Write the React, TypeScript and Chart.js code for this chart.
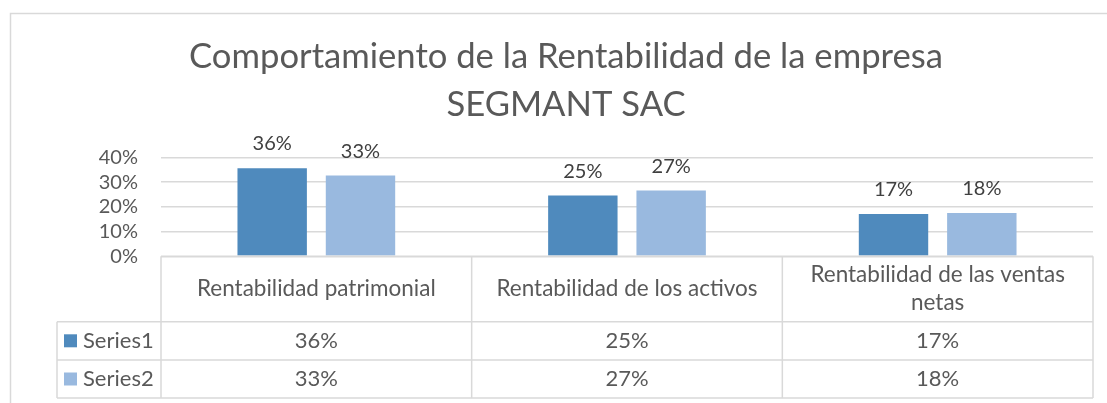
import { useEffect, useRef } from "react";
import { Chart, registerables } from "chart.js";

Chart.register(...registerables);

const titleLines = ["Comportamiento de la Rentabilidad de la empresa", "SEGMANT SAC"];
const categoryLabels = [
  ["Rentabilidad patrimonial"],
  ["Rentabilidad de los activos"],
  ["Rentabilidad de las ventas", "netas"],
];
const seriesNames = ["Series1", "Series2"];
const series1 = [0.356, 0.246, 0.171];
const series2 = [0.327, 0.266, 0.1755];
const seriesColors = ["#4f8abd", "#99b9df"];
const yMin = 0;
const yMax = 0.4;
const yStep = 0.1;

const FONT = "Lato, 'Open Sans', sans-serif";
const GRID = "#d9d9d9";
const TEXT = "#595959";
const LABEL = "#404040";

const pct = (v: number) => Math.round(v * 100) + "%";

const frame = {
  id: "frame",
  beforeDraw(chart: any) {
    const ctx = chart.ctx;
    ctx.save();
    ctx.fillStyle = "#ffffff";
    ctx.fillRect(0, 0, chart.width, chart.height);
    ctx.strokeStyle = GRID;
    ctx.lineWidth = 1.5;
    ctx.strokeRect(10.5, 13.5, 1300, 600);
    ctx.fillStyle = TEXT;
    ctx.textAlign = "center";
    ctx.textBaseline = "alphabetic";
    ctx.font = `30px ${FONT}`;
    const w = ctx.measureText(titleLines[0]).width;
    const size = (30 * 754) / w;
    ctx.font = `${size}px ${FONT}`;
    ctx.fillText(titleLines[0], 566, 68);
    ctx.fillText(titleLines[1], 566, 116);
    ctx.restore();
  },
};

const dataLabels = {
  id: "dataLabels",
  afterDatasetsDraw(chart: any) {
    const ctx = chart.ctx;
    ctx.save();
    ctx.fillStyle = LABEL;
    ctx.font = `20px ${FONT}`;
    ctx.textAlign = "center";
    ctx.textBaseline = "alphabetic";
    chart.data.datasets.forEach((ds: any, di: number) => {
      const meta = chart.getDatasetMeta(di);
      meta.data.forEach((bar: any, i: number) => {
        ctx.fillText(pct(ds.data[i]), bar.x, bar.y - 18);
      });
    });
    ctx.restore();
  },
};

const dataTable = {
  id: "dataTable",
  afterDraw(chart: any) {
    const ctx = chart.ctx;
    const xs = chart.scales.x;
    const area = chart.chartArea;
    const left = area.left;
    const right = area.right;
    const top = area.bottom;
    const headerH = 65.4;
    const rowH = 38.2;
    const legendLeft = 57;
    const n = categoryLabels.length;
    const cw = (right - left) / n;
    const bottom = top + headerH + rowH * seriesNames.length;
    ctx.save();
    ctx.strokeStyle = GRID;
    ctx.lineWidth = 1.5;
    const line = (x1: number, y1: number, x2: number, y2: number) => {
      ctx.beginPath();
      ctx.moveTo(x1, y1);
      ctx.lineTo(x2, y2);
      ctx.stroke();
    };
    line(left, top, right, top);
    for (let r = 0; r <= seriesNames.length; r++) {
      const y = top + headerH + r * rowH;
      line(legendLeft, y, right, y);
    }
    for (let k = 0; k <= n; k++) {
      const x = left + k * cw;
      line(x, top, x, bottom);
    }
    line(legendLeft, top + headerH, legendLeft, bottom);

    ctx.fillStyle = TEXT;
    ctx.font = `22.5px ${FONT}`;
    ctx.textAlign = "center";
    ctx.textBaseline = "middle";
    const hc = top + headerH / 2;
    const lh = 28.3;
    categoryLabels.forEach((lines, i) => {
      const cx = xs.getPixelForValue(i);
      const y0 = hc - ((lines.length - 1) * lh) / 2;
      lines.forEach((t, j) => ctx.fillText(t, cx, y0 + j * lh));
    });
    ctx.font = `22px ${FONT}`;
    chart.data.datasets.forEach((ds: any, di: number) => {
      const cy = top + headerH + di * rowH + rowH / 2;
      ctx.fillStyle = seriesColors[di];
      ctx.fillRect(64, cy - 6.5, 13, 13);
      ctx.fillStyle = TEXT;
      ctx.textAlign = "left";
      ctx.fillText(seriesNames[di], 83, cy);
      ctx.textAlign = "center";
      ds.data.forEach((v: number, i: number) => {
        ctx.fillText(pct(v), xs.getPixelForValue(i), cy);
      });
    });
    ctx.restore();
  },
};

export default function App() {
  const ref = useRef<HTMLCanvasElement>(null);
  useEffect(() => {
    if (!ref.current) return;
    const chart = new Chart(ref.current, {
      type: "bar",
      data: {
        labels: categoryLabels,
        datasets: [
          { label: seriesNames[0], data: series1, backgroundColor: seriesColors[0] },
          { label: seriesNames[1], data: series2, backgroundColor: seriesColors[1] },
        ],
      },
      options: {
        responsive: false,
        animation: false,
        devicePixelRatio: 1,
        datasets: { bar: { categoryPercentage: 0.5685, barPercentage: 0.786 } },
        layout: { padding: { left: 61, right: 14, top: 157.5, bottom: 146.7 } },
        plugins: { legend: { display: false }, tooltip: { enabled: false }, title: { display: false } },
        scales: {
          x: { display: false },
          y: {
            min: yMin,
            max: yMax,
            afterFit: (axis: any) => {
              axis.width = 100;
            },
            border: { display: false },
            grid: { color: GRID, lineWidth: 1.5, drawTicks: false },
            ticks: {
              stepSize: yStep,
              autoSkip: false,
              padding: 23,
              color: TEXT,
              font: { family: FONT, size: 20 },
              callback: (v: any) => pct(Number(v)),
            },
          },
        },
      },
      plugins: [frame, dataLabels, dataTable],
    });
    return () => chart.destroy();
  }, []);
  return (
    <div style={{ position: "fixed", left: 0, top: 0, width: 1107, height: 403, background: "#fff" }}>
      <canvas ref={ref} width={1107} height={403} style={{ display: "block" }} />
    </div>
  );
}
